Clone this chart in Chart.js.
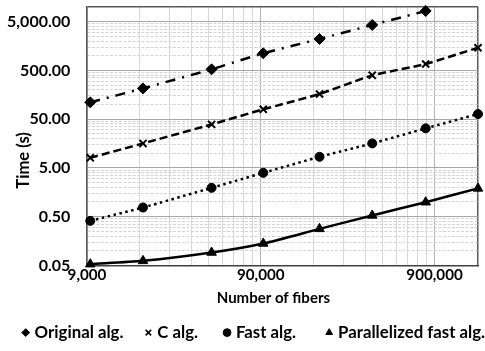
<!DOCTYPE html>
<html><head><meta charset="utf-8">
<script src="https://cdn.jsdelivr.net/npm/chart.js@4/dist/chart.umd.min.js"></script>
<style>html,body{margin:0;padding:0;background:#fff}#wrap{width:485px;height:351px;position:relative}</style>
</head><body><div id="wrap"><canvas id="c"></canvas></div>
<script>
// ---- data ----
const fibers = [9400, 18900, 46900, 93000, 196000, 394000, 800000, 1600000];
const originalAlg = [110.6, 214, 527, 1122, 2207, 4278, 8295];
const cAlg = [8.05, 15.9, 39.1, 79.5, 164, 396, 677, 1462];
const fastAlg = [0.41, 0.77, 1.95, 3.96, 8.45, 15.9, 32.4, 63.7];
const parallelFastAlg = [0.053, 0.062, 0.092, 0.141, 0.281, 0.53, 0.99, 1.90];
const seriesNames = ['Original alg.', 'C alg.', 'Fast alg.', 'Parallelized fast alg.'];
const xMajorTicks = [9000, 90000, 900000];
const yMajorTicks = [0.05, 0.5, 5, 50, 500, 5000];
const xMin = 9000, xMax = 1600000, yMin = 0.05, yMax = 10000;
const xTitle = 'Number of fibers';
const yTitle = 'Time (s)';

// ---- styling ----
const FONT = 'Lato';
const SP = n => ' '.repeat(n);
const LEGEND_TRAIL = [6, 7, 8, 0];

function buildTicks(majors, min, max) {
  const out = [];
  majors.forEach(m => {
    for (let k = 1; k <= 9; k++) {
      const v = m * k;
      if (v >= min * 0.999 && v < max * 0.999) out.push({value: v, major: k === 1, edge: false});
    }
  });
  out.push({value: max, major: false, edge: true});
  return out;
}
function pts(ys) { return ys.map((y, i) => ({x: fibers[i], y})); }

const base = {borderColor: '#000', backgroundColor: '#000', pointBackgroundColor: '#000',
  pointBorderColor: '#000', borderWidth: 2.5, clip: false, fill: false, pointHoverRadius: 5,
  xAxisID: 'x', yAxisID: 'y'};

const chart = new Chart(document.getElementById('c'), {
  type: 'line',
  data: {
    datasets: [
      Object.assign({}, base, {label: seriesNames[0], data: pts(originalAlg), borderDash: [10, 7, 2, 7],
        pointStyle: 'rectRot', pointRadius: 5.5, pointBorderWidth: 1, tension: 0.15}),
      Object.assign({}, base, {label: seriesNames[1], data: pts(cAlg), borderDash: [8, 4],
        pointStyle: 'crossRot', pointRadius: 5, pointBorderWidth: 2, tension: 0.15}),
      Object.assign({}, base, {label: seriesNames[2], data: pts(fastAlg), borderDash: [2.5, 3.5],
        pointStyle: 'circle', pointRadius: 4.5, pointBorderWidth: 1, tension: 0.15}),
      Object.assign({}, base, {label: seriesNames[3], data: pts(parallelFastAlg), borderDash: [],
        pointStyle: 'triangle', pointRadius: 5.5, pointBorderWidth: 1, tension: 0.25})
    ]
  },
  options: {
    responsive: true, maintainAspectRatio: false, animation: false,
    layout: {padding: {left: 0, right: 0, top: 7, bottom: 0}},
    scales: {
      x: {
        type: 'logarithmic', min: xMin, max: xMax,
        afterBuildTicks: s => { s.ticks = buildTicks(xMajorTicks, xMin, xMax); },
        afterFit: s => { s.height = 58.8; s.paddingLeft = 0; s.paddingRight = 0; },
        grid: {drawTicks: false,
          color: c => c.tick && c.tick.edge ? '#595959' : (c.tick && c.tick.major ? '#b4b4b4' : '#d8d8d8'),
          lineWidth: c => c.tick && c.tick.edge ? 1.5 : 1},
        border: {display: true, color: '#404040', width: 1.5},
        ticks: {autoSkip: false, maxRotation: 0, padding: 1, color: '#000',
          font: {family: FONT, size: 15.2, weight: 'bold'},
          callback: (v, i, t) => t[i].major ? Number(v).toLocaleString('en-US') : ''},
        title: {display: true, text: xTitle + SP(5), color: '#000', padding: {top: 2, bottom: 17},
          font: {family: FONT, size: 15, weight: 'bold'}}
      },
      y: {
        type: 'logarithmic', min: yMin, max: yMax,
        afterBuildTicks: s => { s.ticks = buildTicks(yMajorTicks, yMin, yMax); },
        afterFit: s => { s.width = 87; s.paddingTop = 0; s.paddingBottom = 0; },
        grid: {drawTicks: false,
          color: c => c.tick && c.tick.edge ? '#595959' : (c.tick && c.tick.major ? '#a8a8a8' : '#d4d4d4'),
          lineWidth: c => c.tick && c.tick.edge ? 1.5 : 1},
        border: {display: true, color: '#595959', width: 1.5,
          dash: c => (c.tick && !c.tick.major && !c.tick.edge) ? [3, 1.5] : []},
        ticks: {autoSkip: false, padding: 16.7, color: '#000',
          font: {family: FONT, size: 16, weight: 'bold'},
          callback: (v, i, t) => t[i].major ? Number(v).toLocaleString('en-US', {minimumFractionDigits: 2, maximumFractionDigits: 2}) : ''},
        title: {display: true, text: yTitle + SP(12), color: '#000', padding: {top: 13.3, bottom: 0},
          font: {family: FONT, size: 16.6, weight: 'bold'}}
      },
      yR: {
        type: 'linear', position: 'right', min: 0, max: 1, display: true,
        grid: {display: false, drawTicks: false}, border: {display: false}, ticks: {display: false},
        afterFit: s => { s.width = 6.7; s.paddingTop = 0; s.paddingBottom = 0; }
      }
    },
    plugins: {
      tooltip: {enabled: false},
      legend: {
        position: 'bottom', align: 'end',
        labels: {
          usePointStyle: true, boxWidth: 1, boxHeight: 5.5, padding: 0, color: '#000',
          font: {family: FONT, size: 16.8, weight: 'bold'},
          generateLabels: ch => Chart.defaults.plugins.legend.labels.generateLabels(ch).map((l, i) => {
            l.lineDash = []; l.lineWidth = l.pointStyle === 'crossRot' ? 1.5 : 1;
            l.text = l.text + SP(LEGEND_TRAIL[i] || 0);
            return l;
          })
        }
      }
    }
  }
});
</script></body></html>
